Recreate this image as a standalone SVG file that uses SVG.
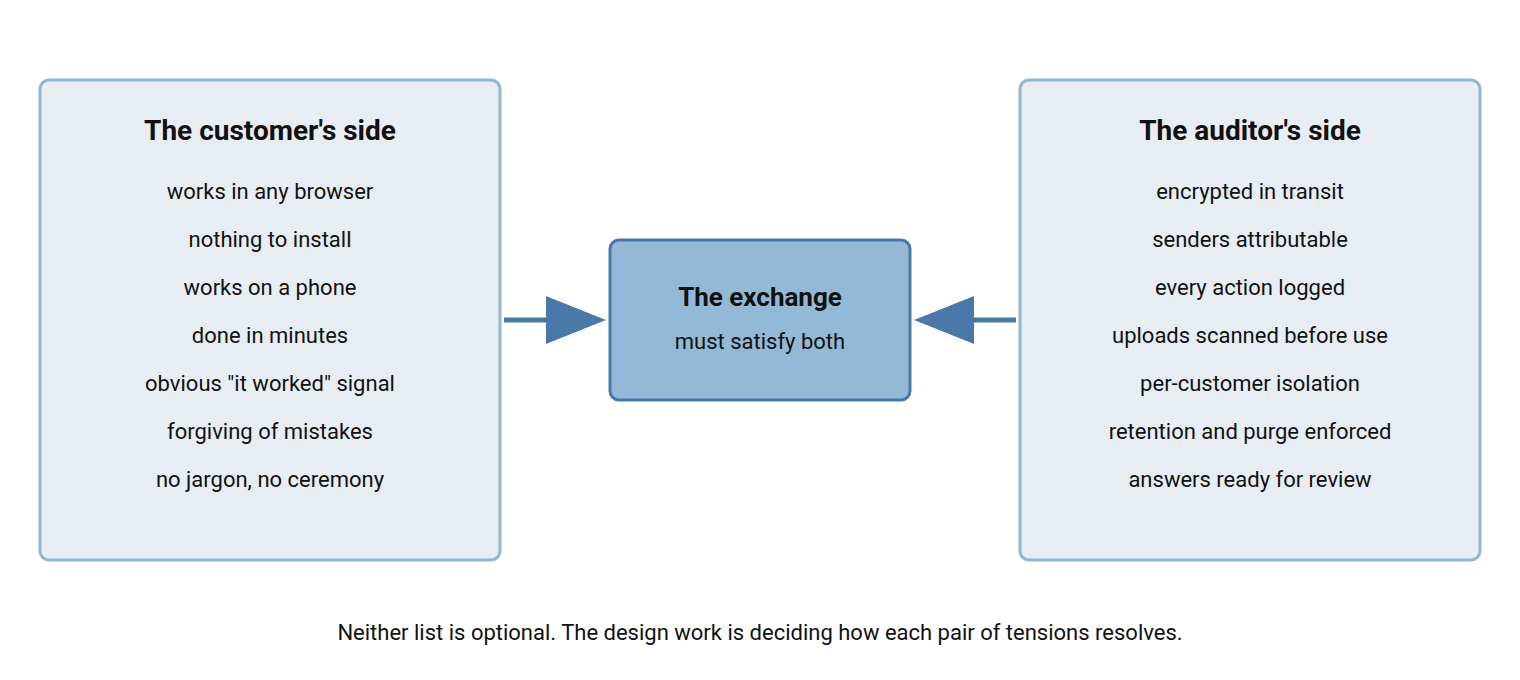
<svg xmlns="http://www.w3.org/2000/svg" width="1520" height="680" viewBox="0 0 1520 680">
<style>
text{font-family:Roboto,"Liberation Sans",sans-serif;fill:#111;text-anchor:middle}
.side{fill:#e8edf4;stroke:#8fb8d4;stroke-width:3}
.h{font-size:28px;font-weight:bold}
.i{font-size:22px}
.conn{stroke:#4a78a8;stroke-width:5;fill:none}
.head{fill:#4a78a8}
</style>
<rect width="1520" height="680" fill="#fff"/>
<g id="customer">
<rect class="side" x="40" y="80" width="460" height="480" rx="9"/>
<text class="h" x="270" y="140">The customer's side</text>
<text class="i" x="270" y="199">works in any browser</text>
<text class="i" x="270" y="247">nothing to install</text>
<text class="i" x="270" y="295">works on a phone</text>
<text class="i" x="270" y="343">done in minutes</text>
<text class="i" x="270" y="391">obvious "it worked" signal</text>
<text class="i" x="270" y="439">forgiving of mistakes</text>
<text class="i" x="270" y="487">no jargon, no ceremony</text>
</g>
<g id="auditor">
<rect class="side" x="1020" y="80" width="460" height="480" rx="9"/>
<text class="h" x="1250" y="140">The auditor's side</text>
<text class="i" x="1250" y="199">encrypted in transit</text>
<text class="i" x="1250" y="247">senders attributable</text>
<text class="i" x="1250" y="295">every action logged</text>
<text class="i" x="1250" y="343">uploads scanned before use</text>
<text class="i" x="1250" y="391">per-customer isolation</text>
<text class="i" x="1250" y="439">retention and purge enforced</text>
<text class="i" x="1250" y="487">answers ready for review</text>
</g>
<g id="exchange">
<rect x="610" y="240" width="300" height="160" rx="9" fill="#93b9d6" stroke="#4a78a8" stroke-width="3"/>
<text x="760" y="306" font-size="26" font-weight="bold">The exchange</text>
<text class="i" x="760" y="349">must satisfy both</text>
</g>
<g id="connectors">
<line class="conn" x1="504" y1="320" x2="550" y2="320"/>
<polygon class="head" points="546,296 606,320 546,344"/>
<line class="conn" x1="1016" y1="320" x2="970" y2="320"/>
<polygon class="head" points="974,296 914,320 974,344"/>
</g>
<text class="i" x="760" y="640">Neither list is optional. The design work is deciding how each pair of tensions resolves.</text>
</svg>
